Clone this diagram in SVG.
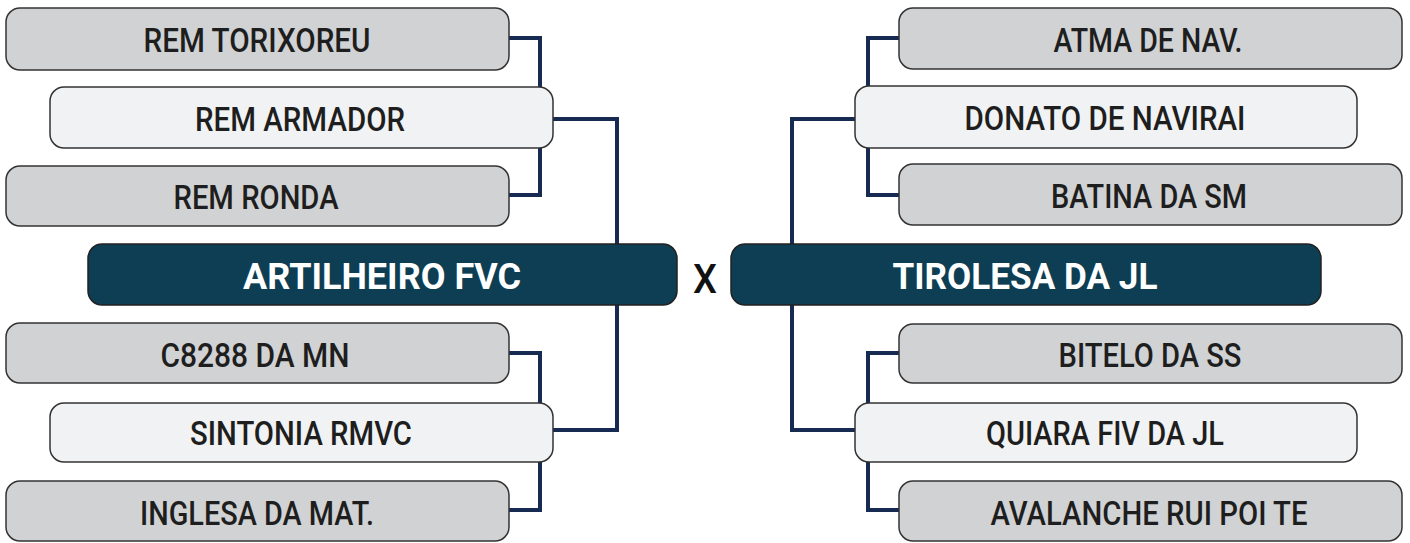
<svg xmlns="http://www.w3.org/2000/svg" width="1410" height="543" viewBox="0 0 1410 543">
<style>
.g{fill:#d1d2d4;stroke:#333;stroke-width:1.5}
.l{fill:#f1f2f3;stroke:#333;stroke-width:1.5}
.d{fill:#0d3e53;stroke:#222;stroke-width:1.5}
.t{font-family:Roboto,"Liberation Sans",sans-serif;font-weight:500;font-size:33px;fill:#1e1e1e;text-anchor:middle}
.w{font-family:Roboto,"Liberation Sans",sans-serif;font-weight:700;font-size:37px;fill:#fff;text-anchor:middle}
.c{fill:none;stroke:#172b52;stroke-width:4}
</style>
<rect width="1410" height="543" fill="#fff"/>
<g id="connectors">
<path class="c" d="M509 38H540V195H509"/>
<path class="c" d="M553 119H617V244"/>
<path class="c" d="M617 305V430H553"/>
<path class="c" d="M509 353H540V510H509"/>
<path class="c" d="M899 38H868V195H899"/>
<path class="c" d="M855 119H792V244"/>
<path class="c" d="M792 305V430H855"/>
<path class="c" d="M899 353H868V510H899"/>
</g>
<g id="n1"><rect class="g" x="6" y="8" width="503" height="62" rx="14"/><text class="t" x="257" y="52" textLength="227" lengthAdjust="spacingAndGlyphs">REM TORIXOREU</text></g>
<g id="n2"><rect class="l" x="50" y="87" width="503" height="61" rx="14"/><text class="t" x="300" y="131" textLength="210" lengthAdjust="spacingAndGlyphs">REM ARMADOR</text></g>
<g id="n3"><rect class="g" x="6" y="166" width="503" height="60" rx="14"/><text class="t" x="256" y="209" textLength="165" lengthAdjust="spacingAndGlyphs">REM RONDA</text></g>
<g id="n4"><rect class="d" x="88" y="244" width="589" height="61" rx="14"/><text class="w" x="382" y="289" textLength="278" lengthAdjust="spacingAndGlyphs">ARTILHEIRO FVC</text></g>
<g id="n5"><rect class="g" x="6" y="323" width="503" height="60" rx="14"/><text class="t" x="255" y="367" textLength="189" lengthAdjust="spacingAndGlyphs">C8288 DA MN</text></g>
<g id="n6"><rect class="l" x="50" y="403" width="503" height="59" rx="14"/><text class="t" x="301" y="445" textLength="222" lengthAdjust="spacingAndGlyphs">SINTONIA RMVC</text></g>
<g id="n7"><rect class="g" x="6" y="481" width="503" height="60" rx="14"/><text class="t" x="257" y="525" textLength="234" lengthAdjust="spacingAndGlyphs">INGLESA DA MAT.</text></g>
<g id="vs"><text x="705" y="293" font-family="Roboto,'Liberation Sans',sans-serif" font-weight="500" font-size="40" fill="#111" text-anchor="middle" textLength="24" lengthAdjust="spacingAndGlyphs">X</text></g>
<g id="n8"><rect class="g" x="899" y="8" width="503" height="61" rx="14"/><text class="t" x="1148" y="52" textLength="189" lengthAdjust="spacingAndGlyphs">ATMA DE NAV.</text></g>
<g id="n9"><rect class="l" x="855" y="86" width="502" height="62" rx="14"/><text class="t" x="1105" y="130" textLength="281" lengthAdjust="spacingAndGlyphs">DONATO DE NAVIRAI</text></g>
<g id="n10"><rect class="g" x="899" y="164" width="503" height="61" rx="14"/><text class="t" x="1149" y="208" textLength="196" lengthAdjust="spacingAndGlyphs">BATINA DA SM</text></g>
<g id="n11"><rect class="d" x="731" y="244" width="590" height="61" rx="14"/><text class="w" x="1025" y="289" textLength="265" lengthAdjust="spacingAndGlyphs">TIROLESA DA JL</text></g>
<g id="n12"><rect class="g" x="899" y="324" width="503" height="59" rx="14"/><text class="t" x="1150" y="367" textLength="183" lengthAdjust="spacingAndGlyphs">BITELO DA SS</text></g>
<g id="n13"><rect class="l" x="855" y="403" width="502" height="59" rx="14"/><text class="t" x="1105" y="445" textLength="238" lengthAdjust="spacingAndGlyphs">QUIARA FIV DA JL</text></g>
<g id="n14"><rect class="g" x="899" y="481" width="503" height="60" rx="14"/><text class="t" x="1149" y="525" textLength="317" lengthAdjust="spacingAndGlyphs">AVALANCHE RUI POI TE</text></g>
</svg>
